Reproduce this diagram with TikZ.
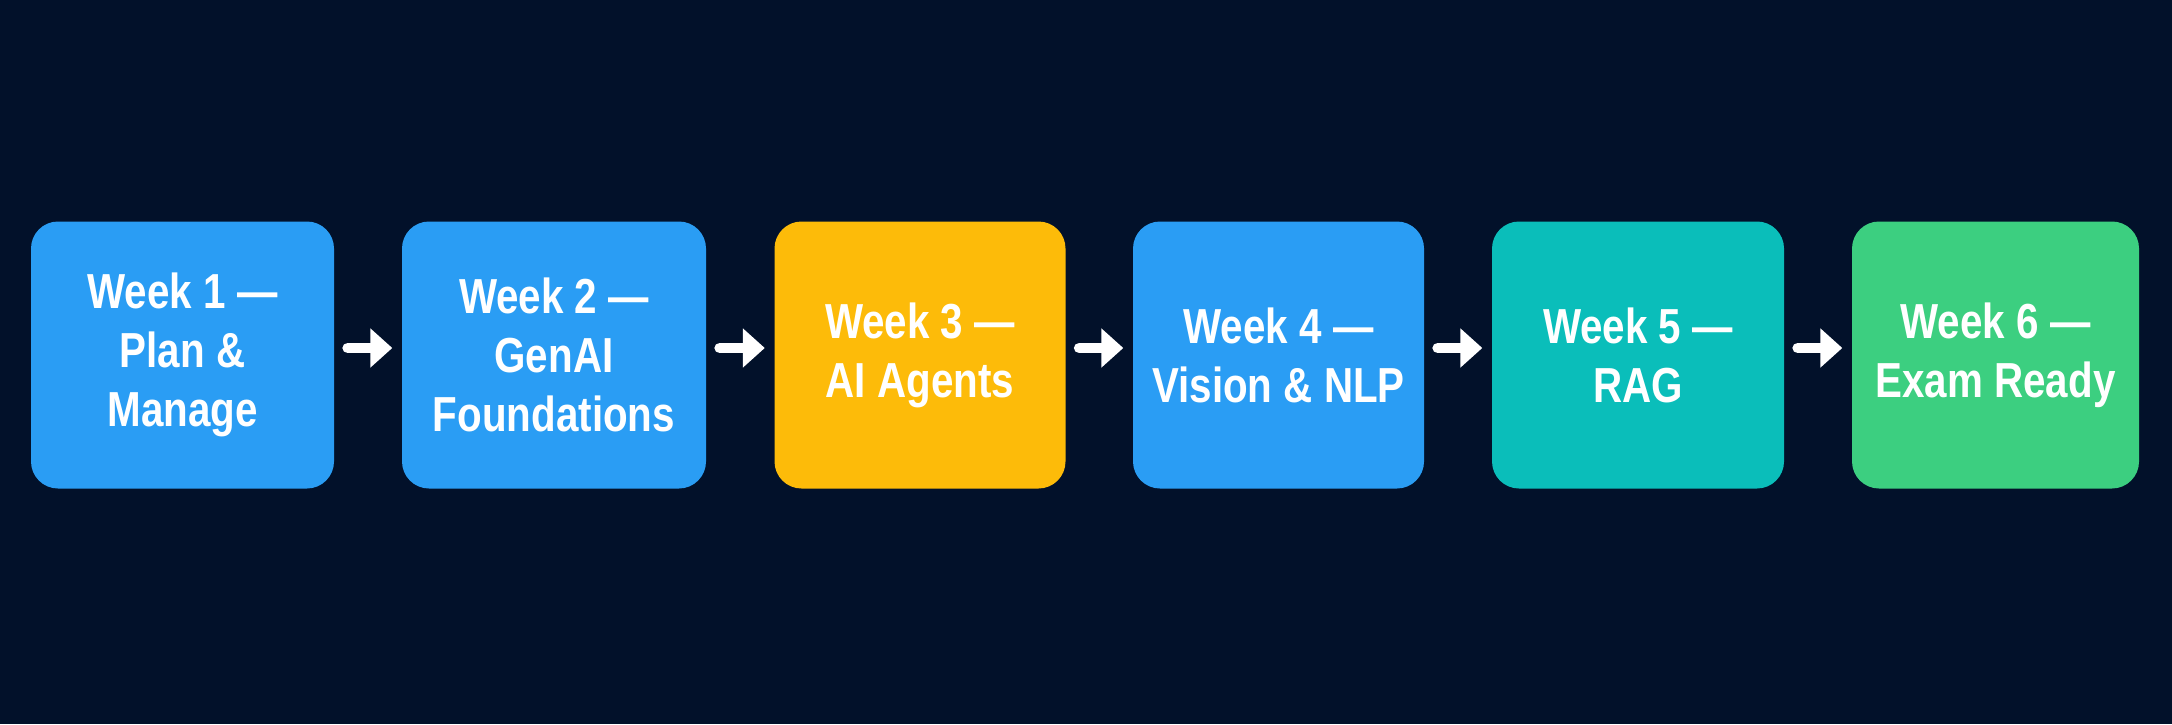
\documentclass[tikz,border=0pt]{standalone}
\usepackage{fontspec}
\newfontfamily\weekfont{Liberation Sans}[FakeStretch=0.82]
\usetikzlibrary{arrows.meta}
\definecolor{bgnavy}{RGB}{2,17,42}
\definecolor{weekblue}{RGB}{42,157,244}
\definecolor{weekyellow}{RGB}{253,187,9}
\definecolor{weekteal}{RGB}{10,190,186}
\definecolor{weekgreen}{RGB}{60,207,128}
\begin{document}
\begin{tikzpicture}[
    weekbox/.style={rounded corners=0.27cm, minimum height=2.67cm, inner sep=0pt,
      align=center, text=white, font=\weekfont\bfseries\fontsize{14}{16.8}\selectfont},
    flow/.style={white, line width=0.107cm, line cap=round,
      -{Triangle[length=0.22cm,width=0.38cm]}, shorten <=0.13cm, shorten >=0.09cm}]
    \fill[bgnavy] (0,0) rectangle (21.72,7.24);

    \node[weekbox, fill=weekblue, minimum width=3.03cm] (plan) at (1.825,3.69)
      {Week 1 —\\Plan \&\\Manage};
    \node[weekbox, fill=weekblue, minimum width=3.04cm] (genai) at (5.54,3.69)
      {Week 2 —\\GenAI\\Foundations};
    \node[weekbox, fill=weekyellow, minimum width=2.91cm] (agents) at (9.20,3.69)
      {Week 3 —\\AI Agents};
    \node[weekbox, fill=weekblue, minimum width=2.91cm] (vision) at (12.785,3.69)
      {Week 4 —\\Vision \& NLP};
    \node[weekbox, fill=weekteal, minimum width=2.92cm] (rag) at (16.38,3.69)
      {Week 5 —\\RAG};
    \node[weekbox, fill=weekgreen, minimum width=2.87cm] (exam) at (19.955,3.69)
      {Week 6 —\\Exam Ready};

    \draw[flow] ([yshift=0.07cm]plan.east) -- ([yshift=0.07cm]genai.west);
    \draw[flow] ([yshift=0.07cm]genai.east) -- ([yshift=0.07cm]agents.west);
    \draw[flow] ([yshift=0.07cm]agents.east) -- ([yshift=0.07cm]vision.west);
    \draw[flow] ([yshift=0.07cm]vision.east) -- ([yshift=0.07cm]rag.west);
    \draw[flow] ([yshift=0.07cm]rag.east) -- ([yshift=0.07cm]exam.west);
\end{tikzpicture}
\end{document}
